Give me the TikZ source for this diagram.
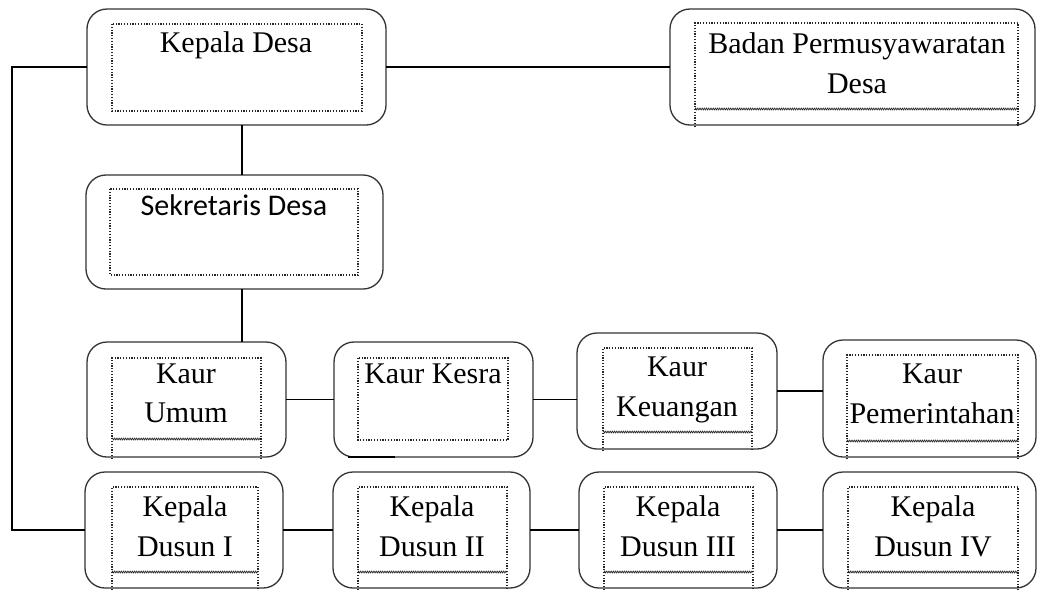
\documentclass[tikz,border=0pt]{standalone}
\usepackage{fontspec}
\setmainfont{Liberation Serif}
\newfontfamily\sekfont{Carlito}
\usetikzlibrary{calc,positioning,decorations.pathmorphing}

\tikzset{
  unit/.style={draw=black!80, line width=1.3pt, rounded corners=20pt,
    inner sep=0pt, outer sep=0pt},
  frame/.style={draw=black!85, line width=1.1pt, dash pattern=on 1.2pt off 1.6pt},
  wavy/.style={draw=black!85, line width=0.7pt, decorate,
    decoration={zigzag, amplitude=0.9pt, segment length=2.2pt}},
  link/.style={draw=black, line width=1.2pt},
  txt/.style={anchor=base, inner sep=0pt, font=\fontsize{30}{40}\selectfont}
}

\begin{document}
\begin{tikzpicture}[x=1pt,y=-1pt]
				\path[use as bounding box] (0,0) rectangle (1038,590);
				% boxes
				\node[unit, minimum width=299pt, minimum height=116pt] (kdesa) at (236.5,67) {};
				\node[unit, minimum width=365pt, minimum height=116pt] (bpd) at (852.5,67) {};
				\node[unit, minimum width=297pt, minimum height=114pt] (sekdes) at (234.5,232) {};
				\node[unit, minimum width=199pt, minimum height=115pt] (kumum) at (186.5,399.5) {};
				\node[unit, minimum width=199pt, minimum height=115pt] (kesra) at (433.5,399.5) {};
				\node[unit, minimum width=200pt, minimum height=116pt] (keu) at (677,391) {};
				\node[unit, minimum width=213pt, minimum height=117pt] (kpem) at (929.5,398.5) {};
				\node[unit, minimum width=198pt, minimum height=116pt] (dusun1) at (184,530) {};
				\node[unit, minimum width=197pt, minimum height=116pt] (dusun2) at (431.5,530) {};
				\node[unit, minimum width=198pt, minimum height=116pt] (dusun3) at (678,530) {};
				\node[unit, minimum width=213pt, minimum height=116pt] (dusun4) at (929.5,530) {};
				% dotted frames
				\draw[frame] (112,24) rectangle (362,111);
				\draw[frame] (695,127) |- (1018,23) -- (1018,127);
				\draw[wavy] (695,109) -- (1018,109);
				\draw[frame] (110,189) rectangle (358,275);
				\draw[frame] (112,459) |- (261,358) -- (261,459);
				\draw[wavy] (112,439) -- (261,439);
				\draw[frame] (358,358) rectangle (508,440);
				\draw[line width=2.5pt] (348,457) -- (395,457);
				\draw[frame] (603,451) |- (752,348) -- (752,451);
				\draw[wavy] (603,432) -- (752,432);
				\draw[frame] (847,459) |- (1018,355) -- (1018,459);
				\draw[wavy] (847,441) -- (1018,441);
				\draw[frame] (112,590) |- (258,487) -- (258,590);
				\draw[wavy] (112,572) -- (258,572);
				\draw[frame] (358,590) |- (507,487) -- (507,590);
				\draw[wavy] (358,572) -- (507,572);
				\draw[frame] (604,590) |- (753,487) -- (753,590);
				\draw[wavy] (604,572) -- (753,572);
				\draw[frame] (848,590) |- (1018,487) -- (1018,590);
				\draw[wavy] (848,572) -- (1018,572);
				% texts
				\node[txt] (kdesa-t) at (236,52) {Kepala Desa};
				\node[txt] (bpd-t1) at (857,53) {Badan Permusyawaratan};
				\node[txt] (bpd-t2) at (857,93) {Desa};
				\node[txt, font=\sekfont\fontsize{30}{40}\selectfont] (sekdes-t) at (234,215) {Sekretaris Desa};
				\node[txt] (kumum-t1) at (186,383) {Kaur};
				\node[txt] (kumum-t2) at (186,422) {Umum};
				\node[txt] (kesra-t) at (433,383) {Kaur Kesra};
				\node[txt] (keu-t1) at (677,376) {Kaur};
				\node[txt] (keu-t2) at (677,416) {Keuangan};
				\node[txt] (kpem-t1) at (932,383) {Kaur};
				\node[txt] (kpem-t2) at (932,423) {Pemerintahan};
				\node[txt] (dusun1-t1) at (185,516) {Kepala};
				\node[txt] (dusun1-t2) at (185,556) {Dusun I};
				\node[txt] (dusun2-t1) at (432,516) {Kepala};
				\node[txt] (dusun2-t2) at (432,556) {Dusun II};
				\node[txt] (dusun3-t1) at (678,516) {Kepala};
				\node[txt] (dusun3-t2) at (678,556) {Dusun III};
				\node[txt] (dusun4-t1) at (933,516) {Kepala};
				\node[txt] (dusun4-t2) at (933,556) {Dusun IV};
				% connectors
				\coordinate (spine) at (242,300);
				\coordinate (bend) at (12,300);
				\draw[link] (kdesa.east) -- (bpd.west);
				\draw[link] (kdesa.south -| spine) -- (sekdes.north -| spine);
				\draw[link] (sekdes.south -| spine) -- (kumum.north -| spine);
				\draw[link] (kdesa.west) -- (kdesa.west -| bend) -- (dusun1.west -| bend) -- (dusun1.west);
				\draw[link] (kumum.east) -- (kesra.west);
				\draw[link] (kesra.east) -- (kesra.east -| keu.west);
				\draw[link] (keu.east) -- (keu.east -| kpem.west);
				\draw[link] (dusun1.east) -- (dusun2.west);
				\draw[link] (dusun2.east) -- (dusun3.west);
				\draw[link] (dusun3.east) -- (dusun4.west);
			\end{tikzpicture}
\end{document}
